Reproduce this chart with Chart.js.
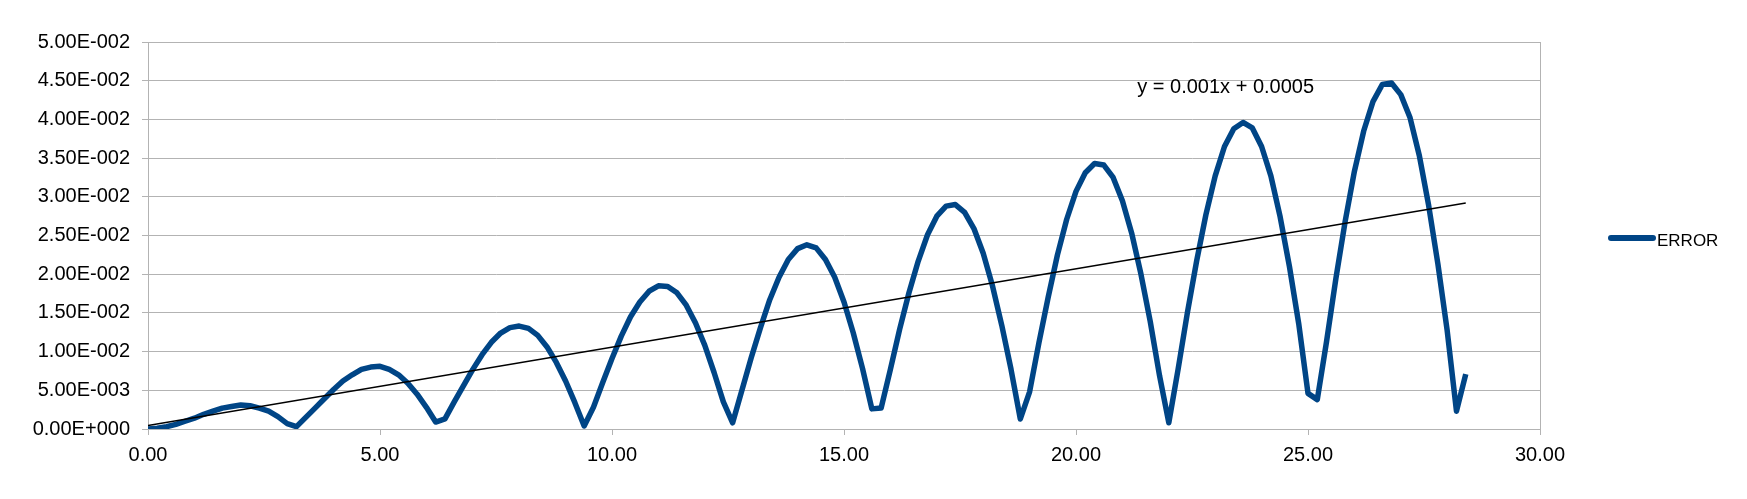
<!DOCTYPE html>
<html>
<head>
<meta charset="utf-8">
<script src="https://cdn.jsdelivr.net/npm/chart.js@4.4.1/dist/chart.umd.min.js"></script>
<style>
  body { margin: 0; background: #fff; }
  #wrap { width: 1747px; height: 499px; }
</style>
</head>
<body>
<div id="wrap"><canvas id="errChart" width="1747" height="499"></canvas></div>
<script>
// sample positions (x)
const xValues = [
  0.0, 0.2, 0.4, 0.6, 0.8, 1.0, 1.2, 1.4, 1.6, 1.8,
  2.0, 2.2, 2.4, 2.6, 2.8, 3.0, 3.2, 3.4, 3.6, 3.8,
  4.0, 4.2, 4.4, 4.6, 4.8, 5.0, 5.2, 5.4, 5.6, 5.8,
  6.0, 6.2, 6.4, 6.6, 6.8, 7.0, 7.2, 7.4, 7.6, 7.8,
  8.0, 8.2, 8.4, 8.6, 8.8, 9.0, 9.2, 9.4, 9.6, 9.8,
  10.0, 10.2, 10.4, 10.6, 10.8, 11.0, 11.2, 11.4, 11.6, 11.8,
  12.0, 12.2, 12.4, 12.6, 12.8, 13.0, 13.2, 13.4, 13.6, 13.8,
  14.0, 14.2, 14.4, 14.6, 14.8, 15.0, 15.2, 15.4, 15.6, 15.8,
  16.0, 16.2, 16.4, 16.6, 16.8, 17.0, 17.2, 17.4, 17.6, 17.8,
  18.0, 18.2, 18.4, 18.6, 18.8, 19.0, 19.2, 19.4, 19.6, 19.8,
  20.0, 20.2, 20.4, 20.6, 20.8, 21.0, 21.2, 21.4, 21.6, 21.8,
  22.0, 22.2, 22.4, 22.6, 22.8, 23.0, 23.2, 23.4, 23.6, 23.8,
  24.0, 24.2, 24.4, 24.6, 24.8, 25.0, 25.2, 25.4, 25.6, 25.8,
  26.0, 26.2, 26.4, 26.6, 26.8, 27.0, 27.2, 27.4, 27.6, 27.8,
  28.0, 28.2, 28.4
];

// ERROR series
const errorValues = [
  0.0000, 0.0001, 0.0003, 0.0006, 0.0010, 0.0014, 0.0019, 0.0023, 0.0027, 0.0029,
  0.0031, 0.0030, 0.0027, 0.0023, 0.0016, 0.0007, 0.0003, 0.0015, 0.0027, 0.0039,
  0.0051, 0.0062, 0.0070, 0.0077, 0.0080, 0.0081, 0.0077, 0.0070, 0.0059, 0.0045,
  0.0028, 0.0009, 0.0013, 0.0035, 0.0056, 0.0077, 0.0096, 0.0112, 0.0124, 0.0131,
  0.0133, 0.0130, 0.0121, 0.0106, 0.0086, 0.0062, 0.0034, 0.0004, 0.0028, 0.0060,
  0.0091, 0.0120, 0.0145, 0.0164, 0.0178, 0.0185, 0.0184, 0.0176, 0.0160, 0.0137,
  0.0108, 0.0073, 0.0035, 0.0008, 0.0050, 0.0092, 0.0131, 0.0167, 0.0196, 0.0219,
  0.0233, 0.0238, 0.0234, 0.0219, 0.0196, 0.0164, 0.0124, 0.0078, 0.0026, 0.0027,
  0.0077, 0.0129, 0.0176, 0.0217, 0.0251, 0.0275, 0.0288, 0.0290, 0.0280, 0.0259,
  0.0227, 0.0185, 0.0134, 0.0077, 0.0013, 0.0048, 0.0111, 0.0170, 0.0225, 0.0271,
  0.0307, 0.0331, 0.0343, 0.0341, 0.0325, 0.0295, 0.0253, 0.0200, 0.0139, 0.0069,
  0.0008, 0.0077, 0.0150, 0.0217, 0.0277, 0.0327, 0.0365, 0.0388, 0.0396, 0.0389,
  0.0365, 0.0327, 0.0274, 0.0210, 0.0136, 0.0046, 0.0038, 0.0113, 0.0194, 0.0268,
  0.0333, 0.0385, 0.0423, 0.0445, 0.0447, 0.0432, 0.0402, 0.0353, 0.0289, 0.0213,
  0.0127, 0.0023, 0.0071
];

// linear trendline end points
const trendX = [0, 28.4];
const trendY = [0.00045, 0.0292];
const trendLabel = 'y = 0.001x + 0.0005';

const xTicks = [0, 5, 10, 15, 20, 25, 30];
const yMin = 0, yMax = 0.05, yStep = 0.005;

const gridGray = '#b3b3b3';
const lineBlue = '#004586';
const fontFamily = '"Liberation Sans", Arial, sans-serif';

// 5.00E-003 style labels
function sci(v) {
  if (Math.abs(v) < 1e-12) return '0.00E+000';
  const parts = v.toExponential(2).split('e');
  const n = parseInt(parts[1], 10);
  return parts[0] + 'E' + (n < 0 ? '-' : '+') + String(Math.abs(n)).padStart(3, '0');
}

const errorData = xValues.map((x, i) => ({ x: x, y: errorValues[i] }));
const trendData = trendX.map((x, i) => ({ x: x, y: trendY[i] }));

// legend + trendline equation, drawn like the office chart
const extrasPlugin = {
  id: 'extras',
  afterDraw(chart) {
    const ctx = chart.ctx;
    const xs = chart.scales.x, ys = chart.scales.y;
    ctx.save();
    ctx.fillStyle = '#000';
    ctx.font = '20px ' + fontFamily;
    ctx.textBaseline = 'alphabetic';
    ctx.textAlign = 'left';
    ctx.fillText(trendLabel, xs.getPixelForValue(21.32), ys.getPixelForValue(0.0434));

    // legend entry
    const ds = chart.data.datasets[1];
    ctx.strokeStyle = ds.borderColor;
    ctx.lineWidth = 6;
    ctx.lineCap = 'round';
    ctx.beginPath();
    ctx.moveTo(1611, 238);
    ctx.lineTo(1653, 238);
    ctx.stroke();
    ctx.font = '17px ' + fontFamily;
    ctx.fillText(ds.label, 1657, 246);
    ctx.restore();
  }
};

new Chart(document.getElementById('errChart'), {
  type: 'line',
  data: {
    datasets: [
      {
        label: 'Trend',
        data: trendData,
        borderColor: '#000',
        borderWidth: 1.3,
        pointRadius: 0,
        tension: 0,
        order: 0
      },
      {
        label: 'ERROR',
        data: errorData,
        borderColor: lineBlue,
        borderWidth: 5.5,
        borderJoinStyle: 'round',
        pointRadius: 0,
        tension: 0,
        order: 1
      }
    ]
  },
  options: {
    responsive: false,
    animation: false,
    layout: { padding: { left: 0, right: 207, top: 42, bottom: 0 } },
    plugins: {
      legend: { display: false },
      tooltip: { enabled: false }
    },
    scales: {
      x: {
        type: 'linear',
        min: 0,
        max: 30,
        afterBuildTicks: (scale) => { scale.ticks = xTicks.map(v => ({ value: v })); },
        afterFit: (scale) => { scale.height = 70; },
        border: { color: gridGray, width: 1 },
        grid: {
          color: (c) => (c.tick && c.tick.value === 30) ? gridGray : 'rgba(0,0,0,0)',
          tickColor: gridGray,
          tickLength: 6,
          lineWidth: 1
        },
        ticks: {
          color: '#000',
          padding: 8,
          maxRotation: 0,
          font: { family: fontFamily, size: 20 },
          callback: (v) => Number(v).toFixed(2)
        }
      },
      y: {
        min: yMin,
        max: yMax,
        afterFit: (scale) => { scale.width = 148; },
        border: { color: gridGray, width: 1 },
        grid: {
          color: gridGray,
          tickLength: 6,
          lineWidth: 1
        },
        ticks: {
          stepSize: yStep,
          autoSkip: false,
          color: '#000',
          padding: 12,
          font: { family: fontFamily, size: 20 },
          callback: (v) => sci(v)
        }
      }
    }
  },
  plugins: [extrasPlugin]
});
</script>
</body>
</html>
